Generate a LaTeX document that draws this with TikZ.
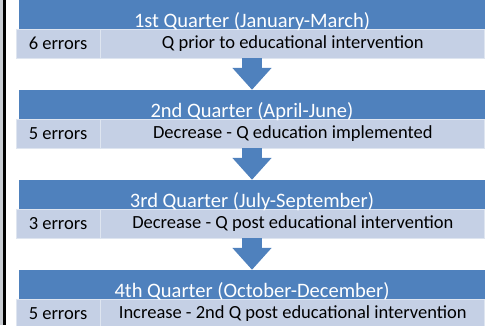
\documentclass[tikz,border=0pt]{standalone}
\usepackage{fontspec}
\setmainfont{Carlito}
\usetikzlibrary{positioning,arrows.meta}
\definecolor{qblue}{RGB}{79,129,189}
\definecolor{qlight}{RGB}{197,208,229}
\definecolor{qedge}{RGB}{222,229,240}
\definecolor{qside}{RGB}{200,204,210}
\tikzset{
  quarter/.style={fill=qblue, text=white, inner sep=0pt, minimum width=466pt, minimum height=29pt, text height=25pt, text depth=0pt, font=\fontsize{20.5}{23}\selectfont},
  errs/.style={fill=qlight, draw=qedge, line width=0.8pt, inner sep=0pt, minimum width=84pt, minimum height=29pt, font=\fontsize{18.5}{21}\selectfont},
  note/.style={errs, minimum width=384pt},
  flow/.style={qblue, line width=20pt, -{Triangle[width=38pt,length=22pt]}}
}
\begin{document}
\begin{tikzpicture}
     \useasboundingbox (0,0) rectangle (485pt,-325pt);
     \fill[qside] (0,0) rectangle (3pt,-325pt);
     \fill[black] (3pt,0) rectangle (5.5pt,-325pt);
     % first quarter
     \node[errs] (e1) at (58pt,-43.5pt) {6 errors};
     \node[note, right=0pt of e1] (n1) {Q prior to educational intervention};
     \node[quarter] (h1) at (252pt,-14.5pt) {1st Quarter (January-March)};
     % second quarter
     \node[errs] (e2) at (58pt,-133.5pt) {5 errors};
     \node[note, right=0pt of e2] (n2) {Decrease - Q education implemented};
     \node[quarter] (h2) at (252pt,-104.5pt) {2nd Quarter (April-June)};
     % third quarter
     \node[errs] (e3) at (58pt,-223.5pt) {3 errors};
     \node[note, right=0pt of e3] (n3) {Decrease - Q post educational intervention};
     \node[quarter] (h3) at (252pt,-194.5pt) {3rd Quarter (July-September)};
     % fourth quarter
     \node[errs] (e4) at (58pt,-313.5pt) {5 errors};
     \node[note, right=0pt of e4] (n4) {Increase - 2nd Q post educational intervention};
     \node[quarter] (h4) at (252pt,-284.5pt) {4th Quarter (October-December)};
     % arrows
     \draw[flow] (h1.center |- e1.south) -- (h2.north);
     \draw[flow] (h2.center |- e2.south) -- (h3.north);
     \draw[flow] (h3.center |- e3.south) -- (h4.north);
\end{tikzpicture}
\end{document}
